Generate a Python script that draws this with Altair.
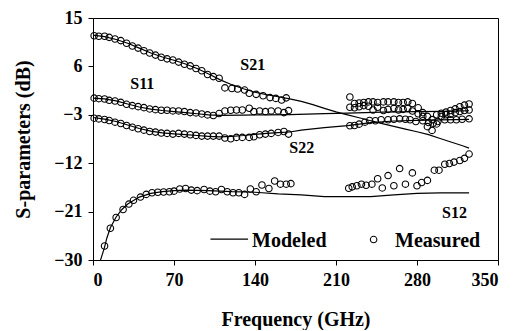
import altair as alt
import pandas as pd

FONT = "Liberation Serif"

# ---------------- Modeled curves (frequency GHz, dB) ----------------
s21_mod_f = [0, 10, 20, 30, 40, 50, 60, 70, 80, 90, 100, 110, 120, 130, 140, 150, 160, 170,
             180, 190, 200, 210, 220, 230, 240, 250, 260, 270, 280, 290, 300, 310, 320, 325]
s21_mod_v = [11.8, 11.55, 11.0, 10.3, 9.4, 8.5, 7.75, 7.15, 6.45, 5.6, 4.6, 3.5, 2.6, 1.85, 1.2, 0.75, 0.35, -0.05,
             -0.5, -1.1, -1.8, -2.45, -3.0, -3.55, -4.1, -4.65, -5.15, -5.65, -6.15, -6.7, -7.4, -8.1, -8.8, -9.2]

s11_mod_f = [0, 10, 20, 30, 40, 50, 60, 70, 80, 90, 100, 110, 130, 150, 170, 200, 220, 250, 280, 300, 325]
s11_mod_v = [0.1, -0.05, -0.4, -1.0, -1.55, -1.95, -2.2, -2.4, -2.6, -2.8, -3.0, -3.1, -3.05, -3.0, -2.95,
             -2.8, -2.7, -2.5, -2.4, -2.35, -2.25]

s22_mod_f = [0, 10, 20, 30, 40, 50, 60, 70, 80, 90, 100, 110, 120, 130, 140, 150, 160, 170,
             180, 200, 220, 240, 260, 280, 300, 325]
s22_mod_v = [-3.5, -3.8, -4.25, -4.9, -5.55, -6.05, -6.35, -6.55, -6.7, -6.85, -7.0, -7.1, -7.0, -6.85, -6.65, -6.45, -6.3, -6.2,
             -5.85, -5.4, -5.0, -4.45, -4.15, -4.05, -3.95, -3.85]

s12_mod_f = [6.5, 8, 10, 12, 15, 20, 25, 30, 40, 50, 60, 70, 80, 100, 120, 140, 160, 180,
             200, 220, 240, 260, 280, 300, 325]
s12_mod_v = [-30.0, -29.0, -27.6, -25.9, -24.0, -22.0, -20.6, -19.6, -18.3, -17.6, -17.3, -17.1, -17.0, -17.1, -17.3, -17.4,
             -17.7, -17.9, -18.2, -18.2, -18.2, -17.9, -17.6, -17.5, -17.5]

# ---------------- Measured points ----------------
s21_meas_f = [1, 5, 10, 14, 19, 24, 29, 34, 39, 44, 49, 54, 59, 64, 69, 74, 79, 84, 89, 94, 99, 104, 109,
              114, 120, 125, 131, 135, 141, 147, 153, 158, 163, 167,
              222, 226, 230, 234, 238, 242, 246, 251, 255, 260, 264, 268, 272, 276, 281, 285, 289, 293,
              297, 301, 305, 309, 313, 317, 321, 325]
s21_meas_v = [11.7, 11.6, 11.6, 11.4, 11.1, 10.8, 10.3, 9.8, 9.4, 8.9, 8.5, 8.1, 7.7, 7.4, 7.2, 6.8, 6.4, 6.1, 5.6, 5.2, 4.5, 4.1, 3.8,
              2.0, 1.9, 1.8, 1.6, 1.0, 0.8, 0.55, 0.2, 0.05, -0.25, 0.15,
              0.3, -0.9, -0.8, -0.7, -0.6, -0.6, -0.7, -0.6, -0.6, -0.6, -0.7, -0.7, -0.6, -0.9, -1.7, -2.6, -3.3, -3.9,
              -3.0, -2.7, -2.5, -2.2, -1.9, -1.5, -1.2, -1.0]

s11_meas_f = [1, 5, 10, 14, 19, 24, 29, 34, 39, 44, 49, 54, 59, 64, 69, 74, 79, 84, 89, 94, 99, 104,
              109, 114, 119, 124, 129, 135, 139, 144, 149, 154, 160, 165, 169,
              222, 226, 230, 234, 238, 242, 246, 251, 255, 260, 264, 268, 272, 276, 281, 285, 289, 293,
              297, 301, 305, 309, 313, 317, 321, 325]
s11_meas_v = [0.1, 0.0, -0.07, -0.31, -0.44, -0.68, -1.05, -1.3, -1.48, -1.67, -1.91, -2.04, -2.16, -2.16, -2.28, -2.28,
              -2.4, -2.59, -2.65, -2.84, -3.02, -3.14,
              -2.77, -2.28, -2.16, -2.1, -2.1, -1.79, -2.4, -2.28, -2.4, -2.28, -2.28, -2.59, -2.22,
              -1.6, -1.7, -1.5, -1.3, -1.4, -2.1, -1.6, -2.2, -2.0, -1.8, -2.1, -2.0, -1.8, -2.3, -2.8, -3.3, -5.2, -5.9,
              -4.7, -3.3, -3.0, -2.9, -2.6, -2.4, -2.2, -2.1]

s22_meas_f = [1, 5, 10, 14, 19, 24, 29, 34, 39, 44, 49, 54, 59, 64, 69, 74, 79, 84, 89, 94, 99, 104, 109,
              114, 119, 124, 129, 135, 139, 144, 149, 154, 160, 165, 169,
              222, 226, 230, 235, 239, 244, 249, 255, 260, 265, 270, 274, 279, 285, 290, 294, 298, 304,
              309, 314, 319, 325]
s22_meas_v = [-3.63, -3.76, -3.88, -4.07, -4.37, -4.62, -4.99, -5.3, -5.6, -5.85, -6.1, -6.22, -6.4, -6.46, -6.59,
              -6.46, -6.59, -6.71, -6.83, -6.96, -6.96, -6.96, -6.96, -7.32, -7.45, -7.2, -7.2, -7.2, -7.08,
              -6.71, -6.59, -6.46, -6.28, -6.1, -6.59,
              -5.04, -4.98, -4.74, -4.37, -4.06, -4.11, -3.93, -3.93, -3.82, -3.75, -3.82, -3.93, -4.24, -4.11,
              -4.43, -4.56, -4.24, -3.93, -3.93, -3.93, -3.82, -3.75]

s12_meas_f = [10, 15, 20, 26, 31, 35, 41, 46, 51, 56, 61, 66, 70, 75, 80, 85, 90, 96, 101, 106, 111, 116,
              121, 126, 131, 136, 141, 146, 152, 157, 162, 167, 171,
              221, 224, 228, 232, 236, 241, 246, 250, 255, 260, 265, 270, 276, 280, 284, 289, 295, 299,
              304, 308, 312, 317, 321, 325]
s12_meas_v = [-27.4, -24.1, -22.1, -20.6, -19.6, -18.9, -18.3, -17.8, -17.5, -17.4, -17.35, -17.3, -17.2, -16.8,
              -16.7, -17.0, -17.1, -16.9, -17.2, -17.3, -16.9, -17.3, -17.5, -17.5, -17.8, -16.8, -17.3, -16.05,
              -16.7, -15.3, -15.9, -15.9, -15.8,
              -16.66, -16.4, -16.2, -15.9, -16.1, -15.9, -14.9, -16.6, -14.3, -16.2, -13.0, -15.9, -13.8, -16.2,
              -15.6, -15.2, -13.3, -13.3, -12.2, -12.05, -11.8, -11.5, -11.1, -10.3]

# curve labels
label_text = ["S21", "S11", "S22", "S12"]
label_f = [127.3, 32.2, 169.7, 301.6]
label_v = [5.3, 1.8, -10.1, -22.1]

x_ticks = [0, 70, 140, 210, 280, 350]
y_ticks = [-30, -21, -12, -3, 6, 15]


def frame(name, f, v):
    return pd.DataFrame({"series": name, "f": f, "v": v})


model_df = pd.concat([
    frame("S21", s21_mod_f, s21_mod_v),
    frame("S11", s11_mod_f, s11_mod_v),
    frame("S22", s22_mod_f, s22_mod_v),
    frame("S12", s12_mod_f, s12_mod_v),
])
meas_df = pd.concat([
    frame("S21", s21_meas_f, s21_meas_v),
    frame("S11", s11_meas_f, s11_meas_v),
    frame("S22", s22_meas_f, s22_meas_v),
    frame("S12", s12_meas_f, s12_meas_v),
])
label_df = pd.DataFrame({"t": label_text, "f": label_f, "v": label_v})

xs = alt.Scale(domain=[0, 350], nice=False, zero=False)
ys = alt.Scale(domain=[-30, 15], nice=False, zero=False)

x_enc = alt.X("f:Q", scale=xs, axis=alt.Axis(values=x_ticks, title="Frequency (GHz)",
                                              titleY=65, titleBaseline="alphabetic"))
y_enc = alt.Y("v:Q", scale=ys, axis=alt.Axis(values=y_ticks, title="S-parameters (dB)",
                                              titleX=-70, titleY=121, titleAlign="center",
                                              titleBaseline="middle", titleAngle=-90))

lines = alt.Chart(model_df).mark_line(color="black", strokeWidth=1.2, clip=True).encode(
    x=x_enc, y=y_enc, detail="series:N", order="f:Q")

points = alt.Chart(meas_df).mark_point(shape="circle", filled=False, color="black",
                                       size=42, strokeWidth=1.1, opacity=1).encode(
    x=alt.X("f:Q", scale=xs), y=alt.Y("v:Q", scale=ys))

labels = alt.Chart(label_df).mark_text(align="left", baseline="alphabetic", font=FONT,
                                       fontWeight="bold", fontSize=16, color="black").encode(
    x=alt.X("f:Q", scale=xs), y=alt.Y("v:Q", scale=ys), text="t:N")

# legend (drawn inside plot)
leg_line = alt.Chart(pd.DataFrame({"a": [0]})).mark_rule(color="black", strokeWidth=1.2).encode(
    x=alt.datum(101.5, scale=xs), x2=alt.datum(134.0), y=alt.datum(-26.1, scale=ys))
leg_pt = alt.Chart(pd.DataFrame({"a": [0]})).mark_point(shape="circle", filled=False, color="black",
                                                         size=42, strokeWidth=1.1, opacity=1).encode(
    x=alt.datum(242.5, scale=xs), y=alt.datum(-26.2, scale=ys))
leg_txt = alt.Chart(pd.DataFrame({"t": ["Modeled", "Measured"], "f": [137.5, 261.0], "v": [-27.5, -27.5]})).mark_text(
    align="left", baseline="alphabetic", font=FONT, fontWeight="bold", fontSize=20, color="black").encode(
    x=alt.X("f:Q", scale=xs), y=alt.Y("v:Q", scale=ys), text="t:N")

chart = alt.layer(lines, points, labels, leg_line, leg_pt, leg_txt).properties(
    width=405, height=242,
    padding={"left": 85, "top": 10, "right": 13, "bottom": 70},
    autosize=alt.AutoSizeParams(type="none"),
    background="white",
).configure_view(stroke="black", strokeWidth=1).configure_axis(
    grid=False, domainColor="black", tickColor="black", tickSize=5, domainWidth=1,
    labelFont=FONT, labelFontWeight="bold", labelFontSize=18, labelColor="black", labelPadding=6,
    titleFont=FONT, titleFontWeight="bold", titleFontSize=20, titleColor="black",
)

chart.save("out.html", embed_options={"renderer": "svg", "actions": False})
